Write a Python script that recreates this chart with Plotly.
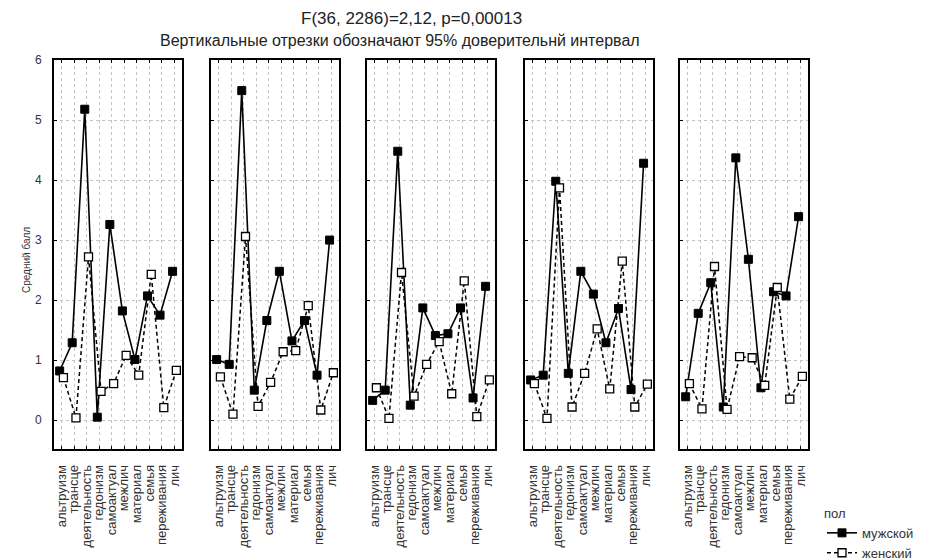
import plotly.graph_objects as go

# Value categories (x axis of every panel)
categories = ["альтруизм", "трансце", "деятельность", "гедонизм", "самоактуал",
              "межлич", "материал", "семья", "переживания", "лич"]

# Mean scores per panel, male group
male_1 = [0.82, 1.29, 5.18, 0.05, 3.26, 1.82, 1.01, 2.07, 1.75, 2.48]
male_2 = [1.01, 0.93, 5.49, 0.50, 1.66, 2.48, 1.32, 1.66, 0.75, 3.00]
male_3 = [0.33, 0.50, 4.48, 0.25, 1.87, 1.41, 1.44, 1.87, 0.37, 2.23]
male_4 = [0.67, 0.75, 3.98, 0.78, 2.48, 2.10, 1.29, 1.86, 0.51, 4.28]
male_5 = [0.39, 1.78, 2.29, 0.22, 4.37, 2.68, 0.54, 2.14, 2.07, 3.39]

# Mean scores per panel, female group
female_1 = [0.71, 0.04, 2.72, 0.48, 0.61, 1.08, 0.75, 2.43, 0.21, 0.83]
female_2 = [0.72, 0.10, 3.06, 0.23, 0.63, 1.14, 1.16, 1.91, 0.17, 0.79]
female_3 = [0.54, 0.03, 2.46, 0.40, 0.93, 1.31, 0.44, 2.32, 0.06, 0.67]
female_4 = [0.61, 0.03, 3.87, 0.22, 0.78, 1.52, 0.52, 2.65, 0.22, 0.60]
female_5 = [0.61, 0.19, 2.56, 0.18, 1.06, 1.04, 0.58, 2.21, 0.35, 0.73]

male_panels = [male_1, male_2, male_3, male_4, male_5]
female_panels = [female_1, female_2, female_3, female_4, female_5]

y_ticks = [0, 1, 2, 3, 4, 5, 6]
series_names = ["мужской", "женский"]
legend_title = "пол"
y_title = "Средний балл"
title_line1 = "F(36, 2286)=2,12, p=0,00013"
title_line2 = "Вертикальные отрезки обозначают 95% доверительнй интервал"

W, H = 933, 560
FONT = "Liberation Sans Narrow, Liberation Sans, Arial, sans-serif"

# panel frames in pixels (left, right)
panel_px = [(54, 182), (211, 339), (367, 495), (525, 653), (680, 808)]
top_px, bottom_px = 60, 449
ydom = [1 - bottom_px / H, 1 - top_px / H]

fig = go.Figure()
layout = {}
idx = list(range(len(categories)))
shift = 0.15

for p, (m_vals, f_vals) in enumerate(zip(male_panels, female_panels)):
    n = p + 1
    xa = "x" if n == 1 else f"x{n}"
    ya = "y" if n == 1 else f"y{n}"
    show = p == 0
    fig.add_trace(go.Scatter(
        x=[i - shift for i in idx], y=m_vals, xaxis=xa, yaxis=ya,
        mode="lines+markers", name=series_names[0], legendgroup="m",
        showlegend=show,
        line=dict(color="black", width=1.6),
        marker=dict(symbol="square", size=8, color="black",
                    line=dict(color="black", width=1)),
    ))
    fig.add_trace(go.Scatter(
        x=[i + shift for i in idx], y=f_vals, xaxis=xa, yaxis=ya,
        mode="lines+markers", name=series_names[1], legendgroup="f",
        showlegend=show,
        line=dict(color="black", width=1.5, dash="4px,3px"),
        marker=dict(symbol="square", size=8, color="white",
                    line=dict(color="black", width=1.3)),
    ))

    l, r = panel_px[p]
    xkey = "xaxis" if n == 1 else f"xaxis{n}"
    ykey = "yaxis" if n == 1 else f"yaxis{n}"
    layout[xkey] = dict(
        domain=[l / W, r / W], anchor=ya, range=[-0.6, 9.6],
        tickmode="array", tickvals=idx, ticktext=categories,
        tickangle=-90, ticks="inside", ticklen=3, tickcolor="black",
        showline=True, linecolor="black", linewidth=1.6, mirror="ticks",
        showgrid=True, gridcolor="#c4c4c4", griddash="dot", gridwidth=1,
        zeroline=False, automargin=False, ticklabelstandoff=9,
        tickfont=dict(family=FONT, size=13, color="#333"),
    )
    layout[ykey] = dict(
        domain=ydom, anchor=xa, range=[-0.48, 6],
        tickmode="array", tickvals=y_ticks, showticklabels=show,
        ticks="inside", ticklen=3, tickcolor="black",
        showline=True, linecolor="black", linewidth=1.6, mirror=True,
        showgrid=True, gridcolor="#c4c4c4", griddash="dot", gridwidth=1,
        zeroline=False, automargin=False, ticklabelstandoff=8,
        tickfont=dict(family=FONT, size=12, color="#333"),
    )

fig.update_layout(
    width=W, height=H,
    # keep the plot area fixed regardless of the legend size
    margin=dict(l=0, r=0, t=0, b=0, autoexpand=False),
    paper_bgcolor="white", plot_bgcolor="white",
    font=dict(family=FONT, color="#222"),
    showlegend=True,
    legend=dict(
        x=822 / W, y=1 - 501 / H, xanchor="left", yanchor="top",
        title=dict(text=legend_title, font=dict(family=FONT, size=13, color="#333")),
        font=dict(family=FONT, size=13, color="#333"),
        itemwidth=30, tracegroupgap=0, bgcolor="rgba(0,0,0,0)",
    ),
    annotations=[
        dict(text=title_line1, x=411 / W, y=1 - 18 / H, xref="paper", yref="paper",
             showarrow=False, xanchor="center", yanchor="middle",
             font=dict(family=FONT, size=17, color="#222")),
        dict(text=title_line2, x=400 / W, y=1 - 41 / H, xref="paper", yref="paper",
             showarrow=False, xanchor="center", yanchor="middle",
             font=dict(family=FONT, size=16, color="#222")),
        dict(text=y_title, x=26 / W, y=1 - 260 / H, xref="paper", yref="paper",
             showarrow=False, textangle=-90, xanchor="center", yanchor="middle",
             font=dict(family=FONT, size=10, color="#333")),
    ],
    **layout,
)

fig.write_html("out.html")
